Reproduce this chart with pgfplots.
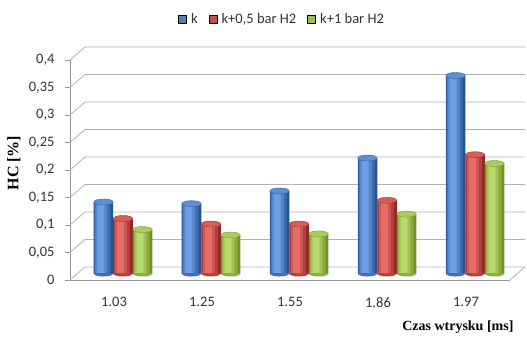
\documentclass[border=0pt]{standalone}
\usepackage{pgfplots}
\pgfplotsset{compat=1.18}
\usepackage{fontspec}
\setmainfont{Carlito}
\newfontfamily\titlefont{Liberation Serif}

% flat colours (legend) and cylinder colours (edge / highlight)
\definecolor{blueM}{RGB}{79,129,189}
\definecolor{redM}{RGB}{192,80,77}
\definecolor{greenM}{RGB}{155,187,89}
\definecolor{blueD}{RGB}{40,82,150}
\definecolor{blueL}{RGB}{108,158,225}
\definecolor{redD}{RGB}{150,38,36}
\definecolor{redL}{RGB}{230,108,102}
\definecolor{greenD}{RGB}{108,145,38}
\definecolor{greenL}{RGB}{185,217,108}
\definecolor{gridc}{RGB}{178,178,178}

% elliptic top of a cylinder
\pgfdeclareplotmark{cap}{%
  \pgfpathellipse{\pgfpointorigin}{\pgfqpoint{9.75pt}{0pt}}{\pgfqpoint{0pt}{3pt}}%
  \pgfusepathqfillstroke}
% rounded lower rim of a cylinder
\pgfdeclareplotmark{base}{%
  \pgfpathmoveto{\pgfqpoint{-9.75pt}{0.5pt}}%
  \pgfpathlineto{\pgfqpoint{-9.75pt}{0pt}}%
  \pgfpatharc{180}{360}{9.75pt and 3pt}%
  \pgfpathlineto{\pgfqpoint{9.75pt}{0.5pt}}%
  \pgfpathclose
  \pgfusepathqfill}

% one series of side-lit cylinders: #1 colour prefix, #2 centre offset (pt), #3 data
\newcommand{\cylinders}[3]{%
  \addplot[ybar, bar width=19.5pt, bar shift={#2pt}, yshift=6.5pt, draw=none, fill=#1D, forget plot] coordinates {#3};
  \addplot[ybar, bar width=16pt, bar shift={#2pt-1pt}, yshift=6.5pt, draw=none, fill=#1L!35!#1D, forget plot] coordinates {#3};
  \addplot[ybar, bar width=12pt, bar shift={#2pt-2pt}, yshift=6.5pt, draw=none, fill=#1L!68!#1D, forget plot] coordinates {#3};
  \addplot[ybar, bar width=7pt, bar shift={#2pt-2.5pt}, yshift=6.5pt, draw=none, fill=#1L, forget plot] coordinates {#3};
  \addplot[only marks, mark=cap, xshift=#2pt, yshift=6.5pt,
    mark options={fill=#1L!80!#1D, draw=#1D!80!#1L, line width=0.4pt}, forget plot] coordinates {#3};
}
% lower rims, at the foot of every cylinder of a series
\newcommand{\rims}[2]{%
  \addplot[only marks, mark=base, xshift=#2pt, yshift=6.5pt,
    mark options={fill=#1L!40!#1D, draw=none}, forget plot]
    coordinates {(0,0) (1,0) (2,0) (3,0) (4,0)};
}

\begin{document}
\begin{tikzpicture}
\useasboundingbox (-70pt,-58pt) rectangle (457pt,280pt);
\begin{axis}[
  scale only axis, width=440pt, height=220pt,
  xmin=-0.5, xmax=4.5, ymin=0, ymax=0.4,
  clip=false,
  axis x line*=bottom, axis y line*=left,
  axis line style={gridc!85!black, line width=0.8pt},
  every tick/.style={gridc!85!black, line width=0.8pt},
  tick align=outside,
  ytick={0,0.05,0.1,0.15,0.2,0.25,0.3,0.35,0.4},
  major tick length=5pt,
  /pgf/number format/use comma,
  /pgf/number format/fixed,
  /pgf/number format/precision=2,
  /pgf/number format/assume math mode=true,
  yticklabel style={xshift=-7pt},
  xtick={0,1,2,3,4},
  xticklabels={1.03,1.25,1.55,1.86,1.97},
  xtick style={draw=none},
  xticklabel style={yshift=-9pt},
  extra x ticks={-0.5,0.5,1.5,2.5,3.5,4.5},
  extra x tick labels={},
  extra x tick style={xtick style={gridc!85!black, line width=0.8pt}, major tick length=4pt},
  tick label style={font=\fontsize{14.5}{16}\selectfont, text=black!80},
  legend columns=3,
  legend style={at={(0.482,1.186)}, anchor=center, draw=none, fill=none,
    font=\fontsize{14.5}{16}\selectfont, text=black!80,
    /tikz/every odd column/.append style={column sep=2.5pt},
    /tikz/every even column/.append style={column sep=9pt}},
  legend image code/.code={\fill[#1] (0pt,-4pt) rectangle (8pt,4pt);},
]

% back wall: grid lines with their receding edges
\pgfplotsinvokeforeach{0,0.05,0.1,0.15,0.2,0.25,0.3,0.35,0.4}{
  \draw[gridc, line width=0.8pt] (axis cs:-0.5,#1)
    -- ([shift={(15pt,13pt)}]axis cs:-0.5,#1)
    -- ([shift={(15pt,13pt)}]axis cs:4.5,#1);
}
\draw[gridc, line width=0.8pt] (axis cs:4.5,0) -- ([shift={(15pt,13pt)}]axis cs:4.5,0);

\rims{blue}{-10.5}
\rims{red}{9}
\rims{green}{28.5}
% k
\cylinders{blue}{-10.5}{(0,0.130) (1,0.127) (2,0.150) (3,0.210) (4,0.360)}
% k+0,5 bar H2
\cylinders{red}{9}{(0,0.100) (1,0.090) (2,0.090) (3,0.133) (4,0.216)}
% k+1 bar H2
\cylinders{green}{28.5}{(0,0.080) (1,0.070) (2,0.072) (3,0.108) (4,0.200)}

\addlegendimage{fill=blueM}
\addlegendentry{k}
\addlegendimage{fill=redM}
\addlegendentry{k+0,5 bar H2}
\addlegendimage{fill=greenM}
\addlegendentry{k+1 bar H2}
\end{axis}

\node[rotate=90, font=\titlefont\bfseries\fontsize{16}{18}\selectfont] at (-56pt,117pt) {HC [\%]};
\node[anchor=east, font=\titlefont\bfseries\fontsize{14}{16}\selectfont] at (447pt,-47pt) {Czas wtrysku [ms]};
\end{tikzpicture}
\end{document}
